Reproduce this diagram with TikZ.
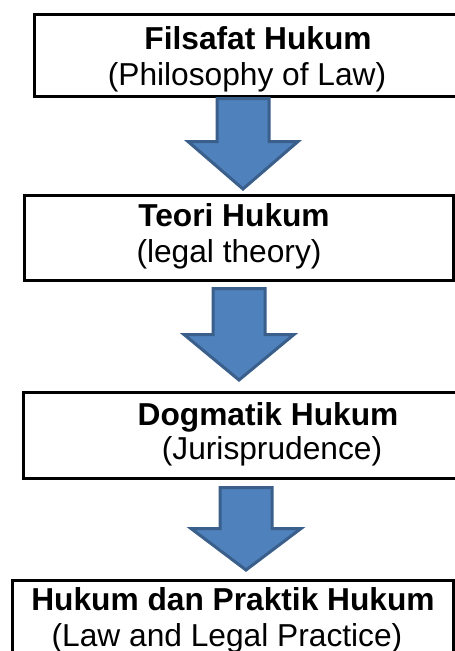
\documentclass[tikz,border=0pt]{standalone}
\usepackage{fontspec}
\setmainfont{Liberation Sans}
\definecolor{arrowfill}{HTML}{4F81BD}
\definecolor{arrowline}{HTML}{3A5F8B}
% block arrow pointing down: #1 centre x, #2 shaft top, #3 head top, #4 tip
\newcommand{\blockdown}[4]{%
  \draw[blockarrow]
    (#1-26,-#2) -- (#1+26,-#2) -- (#1+26,-#3) -- (#1+55,-#3)
    -- (#1,-#4) -- (#1-55,-#3) -- (#1-26,-#3) -- cycle;}
\begin{document}
\begin{tikzpicture}[x=1pt,y=1pt,
  framebox/.style={draw=black, line width=3pt, fill=white, inner sep=0pt},
  headline/.style={anchor=base, inner sep=0pt, font=\fontsize{31.7}{38}\selectfont\bfseries},
  subline/.style={anchor=base, inner sep=0pt, font=\fontsize{31.7}{38}\selectfont},
  blockarrow/.style={draw=arrowline, fill=arrowfill, line width=3pt, line join=miter}]
\useasboundingbox (0,0) rectangle (455,-651);
\clip (0,0) rectangle (455,-651);
\fill[white] (0,0) rectangle (455,-651);

% frames
\node[framebox, minimum width=436pt, minimum height=82pt] (box1) at (252,-55) {};
\node[framebox, minimum width=429pt, minimum height=85pt] (box2) at (238.5,-237.5) {};
\node[framebox, minimum width=447pt, minimum height=86pt] (box3) at (246.5,-435) {};
\node[framebox, minimum width=441pt, minimum height=90pt] (box4) at (232.5,-625) {};

% labels
\node[headline] (t1a) at (258,-49) {Filsafat Hukum};
\node[subline]  (t1b) at (247,-85) {(Philosophy of Law)};
\node[headline] (t2a) at (234,-226) {Teori Hukum};
\node[subline]  (t2b) at (229,-262) {(legal theory)};
\node[headline] (t3a) at (268,-425) {Dogmatik Hukum};
\node[subline]  (t3b) at (272,-459) {(Jurisprudence)};
\node[headline] (t4a) at (233,-610) {Hukum dan Praktik Hukum};
\node[subline]  (t4b) at (227,-646.5) {(Law and Legal Practice)};

% arrows between the frames
\blockdown{243}{98.5}{141.5}{189}
\blockdown{239}{288.5}{334.5}{380}
\blockdown{246}{487.5}{528.5}{570}
\end{tikzpicture}
\end{document}
